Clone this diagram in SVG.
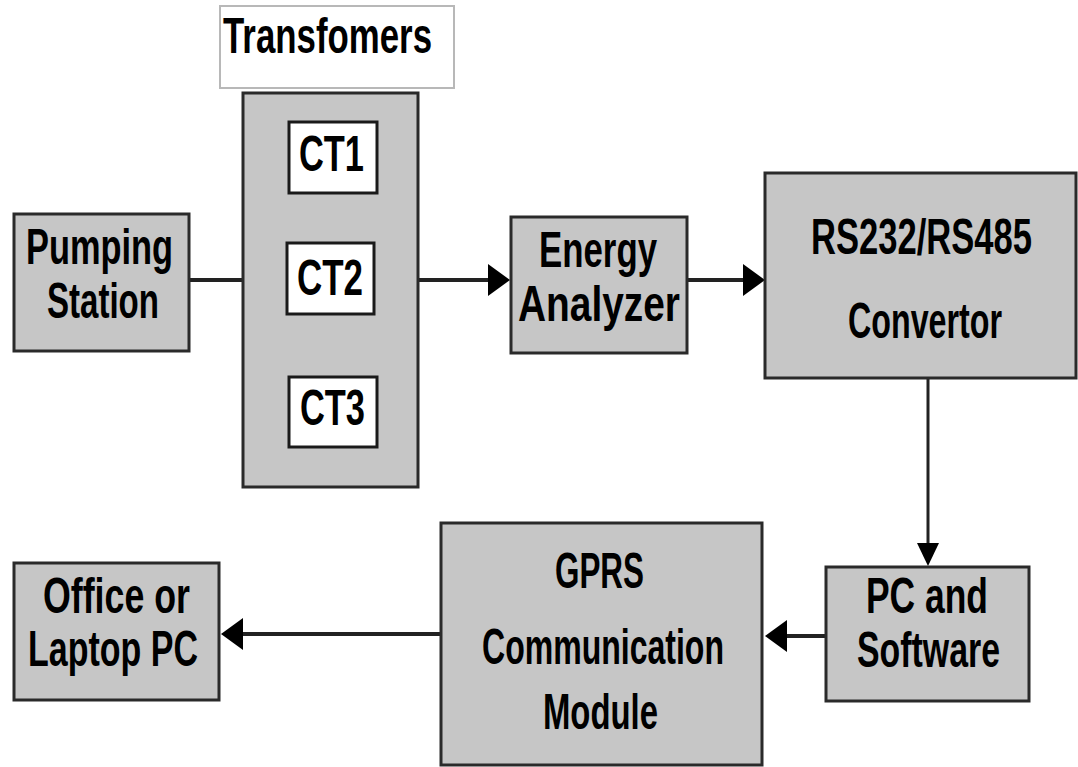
<svg xmlns="http://www.w3.org/2000/svg" width="1078" height="767" viewBox="0 0 1078 767">
<style>
.box{fill:#c6c6c6;stroke:#2a2a2a;stroke-width:3}
.wbox{fill:#ffffff;stroke:#1a1a1a;stroke-width:3}
.lbl{fill:#ffffff;stroke:#b8b8b8;stroke-width:2}
.t{font-family:"Liberation Sans Narrow","Liberation Sans",Arial,sans-serif;font-weight:bold;font-size:50px;fill:#000;font-stretch:condensed}
.c{stroke:#222;stroke-width:4;fill:none}
</style>
<rect width="1078" height="767" fill="#ffffff"/>
<g id="connectors">
<line class="c" x1="189" y1="280" x2="242" y2="280"/>
<line class="c" x1="418" y1="280" x2="490" y2="280"/>
<path d="M488,264 L510,280 L488,296 Z" fill="#000"/>
<line class="c" x1="687" y1="280" x2="745" y2="280"/>
<path d="M743,264 L765,280 L743,296 Z" fill="#000"/>
<line stroke="#222" stroke-width="3" x1="928" y1="378" x2="928" y2="545"/>
<path d="M917,543 L928,566 L939,543 Z" fill="#000"/>
<line class="c" x1="825" y1="636" x2="785" y2="636"/>
<path d="M787,620 L765,636 L787,652 Z" fill="#000"/>
<line class="c" x1="441" y1="634" x2="241" y2="634"/>
<path d="M243,618 L221,634 L243,650 Z" fill="#000"/>
</g>
<g id="transformers-label">
<rect class="lbl" x="220" y="6" width="234" height="82"/>
<text class="t" x="223" y="53" textLength="209" lengthAdjust="spacingAndGlyphs">Transfomers</text>
</g>
<g id="transformers">
<rect class="box" x="243" y="93" width="175" height="394"/>
</g>
<g id="ct1">
<rect class="wbox" x="289" y="122" width="88" height="71"/>
<text class="t" x="299" y="171" textLength="65" lengthAdjust="spacingAndGlyphs">CT1</text>
</g>
<g id="ct2">
<rect class="wbox" x="287" y="243" width="87" height="71"/>
<text class="t" x="297" y="295" textLength="66" lengthAdjust="spacingAndGlyphs">CT2</text>
</g>
<g id="ct3">
<rect class="wbox" x="289" y="377" width="88" height="70"/>
<text class="t" x="300" y="425" textLength="65" lengthAdjust="spacingAndGlyphs">CT3</text>
</g>
<g id="pumping-station">
<rect class="box" x="14" y="214" width="175" height="137"/>
<text class="t" x="26" y="264" textLength="147" lengthAdjust="spacingAndGlyphs">Pumping</text>
<text class="t" x="47" y="318" textLength="112" lengthAdjust="spacingAndGlyphs">Station</text>
</g>
<g id="energy-analyzer">
<rect class="box" x="511" y="217" width="176" height="136"/>
<text class="t" x="539" y="267" textLength="118" lengthAdjust="spacingAndGlyphs">Energy</text>
<text class="t" x="518" y="321" textLength="162" lengthAdjust="spacingAndGlyphs">Analyzer</text>
</g>
<g id="converter">
<rect class="box" x="765" y="173" width="311" height="205"/>
<text class="t" x="811" y="254" textLength="221" lengthAdjust="spacingAndGlyphs">RS232/RS485</text>
<text class="t" x="848" y="338" textLength="154" lengthAdjust="spacingAndGlyphs">Convertor</text>
</g>
<g id="pc-software">
<rect class="box" x="826" y="567" width="203" height="134"/>
<text class="t" x="866" y="613" textLength="122" lengthAdjust="spacingAndGlyphs">PC and</text>
<text class="t" x="857" y="667" textLength="143" lengthAdjust="spacingAndGlyphs">Software</text>
</g>
<g id="gprs">
<rect class="box" x="441" y="523" width="321" height="242"/>
<text class="t" x="555" y="588" textLength="89" lengthAdjust="spacingAndGlyphs">GPRS</text>
<text class="t" x="482" y="664" textLength="242" lengthAdjust="spacingAndGlyphs">Communication</text>
<text class="t" x="543" y="729" textLength="115" lengthAdjust="spacingAndGlyphs">Module</text>
</g>
<g id="office-pc">
<rect class="box" x="14" y="563" width="205" height="137"/>
<text class="t" x="43" y="613" textLength="147" lengthAdjust="spacingAndGlyphs">Office or</text>
<text class="t" x="28" y="666" textLength="170" lengthAdjust="spacingAndGlyphs">Laptop PC</text>
</g>
</svg>
